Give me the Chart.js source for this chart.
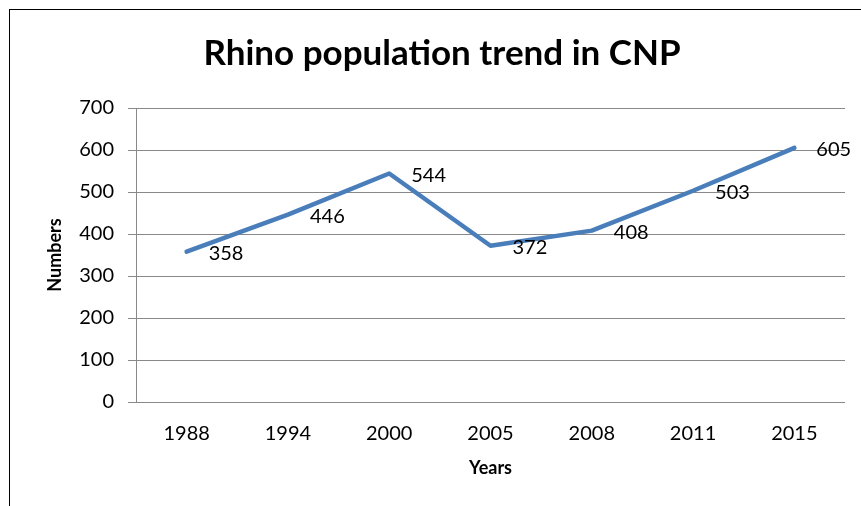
<!DOCTYPE html>
<html>
<head>
<meta charset="utf-8">
<script src="https://cdn.jsdelivr.net/npm/chart.js@4.4.1/dist/chart.umd.min.js"></script>
<style>
  html, body { margin: 0; padding: 0; background: #fff; overflow: hidden; width: 861px; height: 506px; }
  #box { position: absolute; left: 9px; top: 9px; width: 864px; height: 510px; border: 1px solid #000; background: #fff; }
  canvas { display: block; }
</style>
</head>
<body>
<div id="box"><canvas id="c" width="864" height="510"></canvas></div>
<script>
const years = ['1988', '1994', '2000', '2005', '2008', '2011', '2015'];
const rhinos = [358, 446, 544, 372, 408, 503, 605];
const yTicks = [0, 100, 200, 300, 400, 500, 600, 700];

const FONT = 'Lato, "Open Sans", sans-serif';

const labelPlugin = {
  id: 'pointLabels',
  afterDatasetsDraw(chart) {
    const ctx = chart.ctx;
    const meta = chart.getDatasetMeta(0);
    ctx.save();
    ctx.font = '20px ' + FONT;
    ctx.fillStyle = '#000';
    ctx.textAlign = 'left';
    ctx.textBaseline = 'middle';
    meta.data.forEach((pt, i) => {
      ctx.fillText(String(rhinos[i]), pt.x + 22, pt.y + 2);
    });
    ctx.restore();
  }
};

new Chart(document.getElementById('c'), {
  type: 'line',
  data: {
    labels: years,
    datasets: [{
      data: rhinos,
      borderColor: '#4A7EBB',
      borderWidth: 4.5,
      borderCapStyle: 'round',
      borderJoinStyle: 'round',
      pointRadius: 0,
      pointHoverRadius: 0,
      tension: 0,
      fill: false
    }]
  },
  options: {
    responsive: false,
    animation: false,
    events: [],
    layout: { padding: { left: 29, right: 29, top: 0, bottom: 38 } },
    plugins: {
      legend: { display: false },
      tooltip: { enabled: false },
      title: {
        display: true,
        text: 'Rhino population trend in CNP',
        color: '#000',
        font: { family: FONT, size: 35, weight: 'bold', lineHeight: 1.2 },
        padding: { top: 23, bottom: 33 }
      }
    },
    scales: {
      x: {
        offset: true,
        grid: { display: false, drawTicks: false },
        border: { display: false },
        ticks: { color: '#000', font: { family: FONT, size: 20 }, padding: 20, maxRotation: 0 },
        title: {
          display: true, text: 'Years', color: '#000',
          font: { family: FONT, size: 18, weight: 'bold', lineHeight: 1.2 },
          padding: { top: 0, bottom: 3 }
        },
        afterFit(scale) { scale.height = 80; }
      },
      y: {
        min: 0, max: 700,
        afterBuildTicks(scale) { scale.ticks = yTicks.map(v => ({ value: v })); },
        grid: { color: '#898989', lineWidth: 1, tickLength: 8, drawTicks: true },
        border: { display: true, color: '#898989', width: 1 },
        ticks: { color: '#000', font: { family: FONT, size: 20 }, padding: 14 },
        title: {
          display: true, text: 'Numbers', color: '#000',
          font: { family: FONT, size: 18, weight: 'bold', lineHeight: 1.2 },
          padding: { top: 5, bottom: 0 }
        },
        afterFit(scale) { scale.width = 97; }
      }
    }
  },
  plugins: [labelPlugin]
});
</script>
</body>
</html>
